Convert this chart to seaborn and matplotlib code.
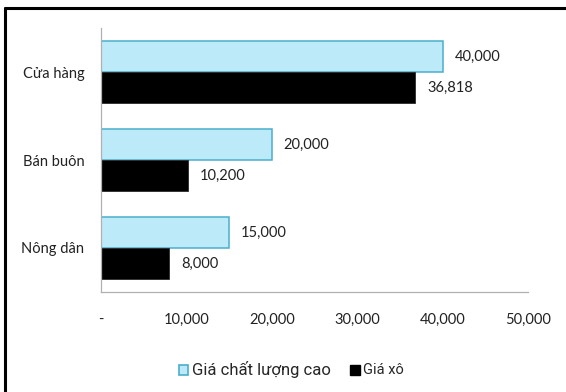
import matplotlib
matplotlib.use("Agg")
import matplotlib.pyplot as plt
import seaborn as sns
import pandas as pd
from matplotlib.lines import Line2D
from matplotlib.patches import Patch

categories = ["Cửa hàng", "Bán buôn", "Nông dân"]
series_names = ["Giá chất lượng cao", "Giá xô"]
high_quality = [40000, 20000, 15000]
bulk = [36818, 10200, 8000]
x_ticks = [0, 10000, 20000, 30000, 40000, 50000]
x_tick_labels = ["-", "10,000", "20,000", "30,000", "40,000", "50,000"]

df = pd.DataFrame({
    "cat": categories * 2,
    "series": [series_names[0]] * 3 + [series_names[1]] * 3,
    "value": high_quality + bulk,
})

sns.set_theme(style="white")
plt.rcParams['font.family'] = ['Lato', 'DejaVu Sans']

fig = plt.figure(figsize=(5.66, 3.92), dpi=100)
ax = fig.add_axes([101/566, 1-292/392, 427/566, 264/392])

blue_face = "#bdeaf8"
blue_edge = "#4aaecb"
sns.barplot(data=df, y="cat", x="value", hue="series", orient="h",
            palette=[blue_face, "#000000"], width=0.70, ax=ax,
            legend=False, saturation=1)

for i, cont in enumerate(ax.containers):
    for bar in cont:
        if i == 0:
            bar.set_edgecolor(blue_edge)
            bar.set_linewidth(1.1)
        else:
            bar.set_edgecolor("#2a2a2a")
            bar.set_linewidth(0.6)
    ax.bar_label(cont, labels=[f"{v:,.0f}" for v in cont.datavalues],
                 padding=8.5, fontsize=10.5, color="#222222")

ax.set_xlim(0, 50000)
ax.set_xticks(x_ticks)
ax.set_xticklabels(x_tick_labels)
ax.set_xlabel("")
ax.set_ylabel("")
ax.tick_params(axis="x", length=0, pad=15, labelsize=10.5, labelcolor="#222222")
ax.tick_params(axis="y", length=0, pad=12, labelsize=10.5, labelcolor="#222222")
for s in ["top", "right"]:
    ax.spines[s].set_visible(False)
for s in ["left", "bottom"]:
    ax.spines[s].set_color("#b0b0b0")
    ax.spines[s].set_linewidth(0.9)

handles = [Patch(facecolor=blue_face, edgecolor=blue_edge, linewidth=1.2),
           Patch(facecolor="black", edgecolor="black")]
leg = fig.legend(handles, series_names, loc="center", bbox_to_anchor=(0.515, 1-369/392),
                 ncol=2, frameon=False, handlelength=0.7, handleheight=0.7,
                 handletextpad=0.25, columnspacing=1.4, fontsize=10)
texts = leg.get_texts()
texts[0].set_fontsize(12)
texts[0].set_family(['Roboto', 'DejaVu Sans'])
texts[1].set_fontsize(10.5)
texts[1].set_family(['Roboto', 'DejaVu Sans'])

# outer border lines (left and top)
fig.add_artist(Line2D([5/566, 5/566], [0, 1-8/392], transform=fig.transFigure,
                      color="black", linewidth=2.2))
fig.add_artist(Line2D([5/566, 1], [1-8/392, 1-8/392], transform=fig.transFigure,
                      color="black", linewidth=2.2))

fig.savefig("out.png", dpi=100)
